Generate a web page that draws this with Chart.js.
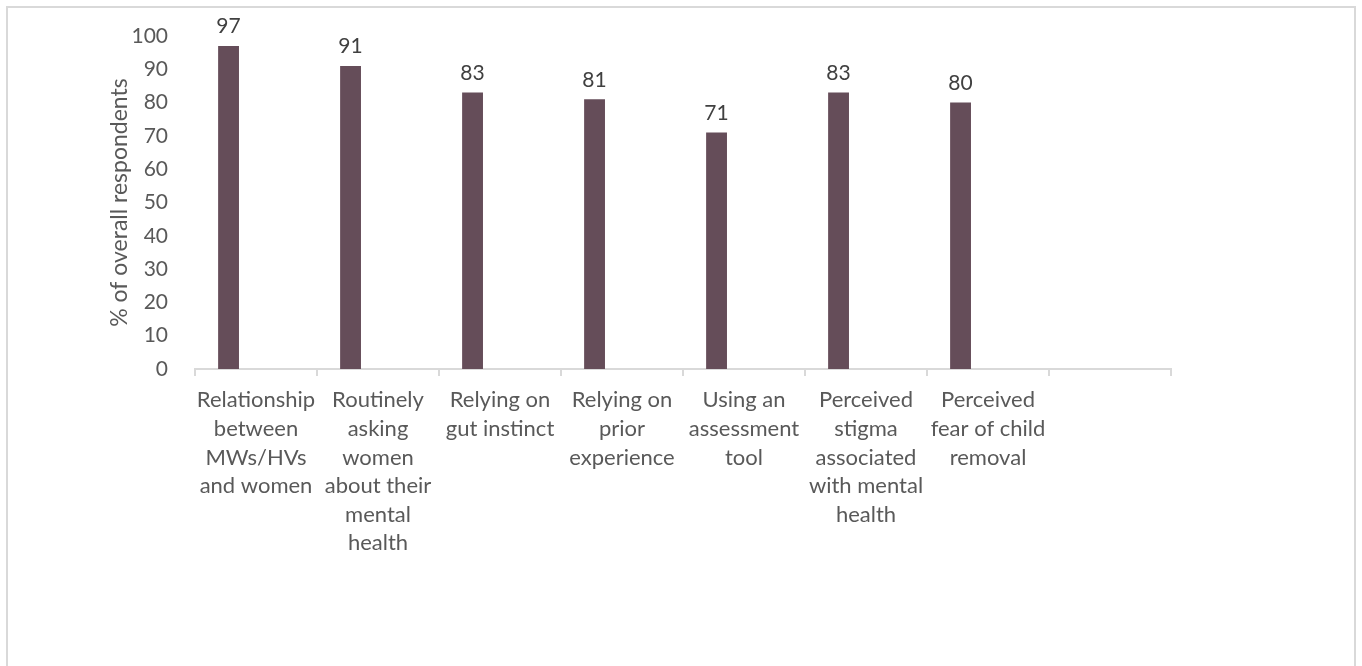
<!DOCTYPE html>
<html>
<head>
<meta charset="utf-8">
<script src="https://cdn.jsdelivr.net/npm/chart.js@4"></script>
<style>
  html, body { margin: 0; padding: 0; background: #fff; }
  #wrap { position: relative; width: 1362px; height: 666px; }
  #frame {
    position: absolute; left: 6px; top: 6px; width: 1346px; height: 660px;
    border: 2px solid #d9d9d9; border-bottom: none; pointer-events: none;
  }
</style>
</head>
<body>
<div id="wrap">
  <canvas id="barChart" width="1362" height="666"></canvas>
  <div id="frame"></div>
</div>
<script>
'use strict';

// Chart data
const categories = [
  ['Relationship', 'between', 'MWs/HVs', 'and women'],
  ['Routinely', 'asking', 'women', 'about their', 'mental', 'health'],
  ['Relying on', 'gut instinct'],
  ['Relying on', 'prior', 'experience'],
  ['Using an', 'assessment', 'tool'],
  ['Perceived', 'stigma', 'associated', 'with mental', 'health'],
  ['Perceived', 'fear of child', 'removal'],
  ''
];
const respondentValues = [97, 91, 83, 81, 71, 83, 80, null];
// second series is empty in the original, it only shifts the bars left
const emptyValues = [null, null, null, null, null, null, null, null];
const yTicks = [0, 10, 20, 30, 40, 50, 60, 70, 80, 90, 100];

const barColor = '#654d59',
  axisColor = '#d9d9d9',
  labelColor = '#595959',
  valueColor = '#404040',
  fontFamily = 'Lato, "Open Sans", sans-serif';

// value labels above the bars
const valueLabels = {
  id: 'valueLabels',
  afterDatasetsDraw(chart) {
    const ctx = chart.ctx;
    const meta = chart.getDatasetMeta(0);
    ctx.save();
    ctx.font = '21px ' + fontFamily;
    ctx.fillStyle = valueColor;
    ctx.textAlign = 'center';
    ctx.textBaseline = 'bottom';
    meta.data.forEach(function (bar, i) {
      const v = respondentValues[i];
      if (v === null || v === undefined) return;
      ctx.fillText(String(v), bar.x, bar.y - 9);
    });
    ctx.restore();
  }
};

const barChart = document.getElementById('barChart');
new Chart(barChart, {
  type: 'bar',
  data: {
    labels: categories,
    datasets: [
      {
        data: respondentValues,
        backgroundColor: barColor,
        borderWidth: 0,
        categoryPercentage: 0.9,
        barPercentage: 0.38
      },
      {
        data: emptyValues,
        backgroundColor: barColor,
        borderWidth: 0,
        categoryPercentage: 0.9,
        barPercentage: 0.38
      }
    ]
  },
  options: {
    responsive: false,
    animation: false,
    layout: {
      padding: { top: 36, right: 191, bottom: 0, left: 102 }
    },
    plugins: {
      legend: { display: false },
      tooltip: { enabled: false }
    },
    scales: {
      x: {
        grid: {
          offset: true,
          drawOnChartArea: false,
          color: axisColor,
          tickLength: 7,
          lineWidth: 2
        },
        border: { color: axisColor, width: 2 },
        ticks: {
          color: labelColor,
          padding: 10,
          maxRotation: 0,
          autoSkip: false,
          font: { family: fontFamily, size: 22, lineHeight: 1.3 }
        },
        afterFit: function (scale) {
          scale.height = 297;
        }
      },
      y: {
        min: 0,
        max: 100,
        grid: { display: false },
        border: { display: false },
        afterBuildTicks: function (scale) {
          scale.ticks = yTicks.map(function (v) { return { value: v }; });
        },
        ticks: {
          color: labelColor,
          padding: 19,
          font: { family: fontFamily, size: 21 }
        },
        title: {
          display: true,
          text: '% of overall respondents',
          color: labelColor,
          padding: { top: 4, bottom: 4 },
          font: { family: fontFamily, size: 23 }
        },
        afterFit: function (scale) {
          scale.width = 93;
        }
      }
    }
  },
  plugins: [valueLabels]
});
</script>
</body>
</html>
